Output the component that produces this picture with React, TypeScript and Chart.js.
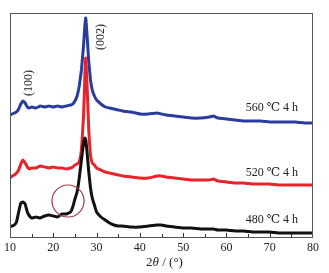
import React, { useEffect, useRef } from "react";
import { Chart, registerables } from "chart.js";

Chart.register(...registerables);

const twoTheta = [
  10, 10.5, 11, 11.5, 12, 12.5, 13, 13.5, 14, 14.5,
  15, 16, 17, 18, 19, 20, 21, 22, 23, 24,
  24.5, 25, 25.5, 26, 26.5, 27, 27.3, 27.5, 27.8, 28.2,
  28.6, 29, 29.5, 30, 31, 32, 33, 34, 35, 36,
  38, 40, 42, 44, 45, 46, 48, 50, 52, 54,
  56, 57, 58, 60, 62, 64, 66, 68, 70, 72,
  74, 76, 78, 80,
];

const blue560 = [
  122, 123, 124, 125, 128, 133, 136, 134, 130, 129,
  130, 129, 131, 130, 131, 130, 131, 130, 131, 132,
  133, 136, 141, 151, 167, 192, 212, 219, 202, 175,
  157, 147, 141, 137, 133, 130, 129, 128, 127, 126,
  125, 123, 123, 124, 123, 122, 121, 120, 119, 119,
  120, 121, 119, 118, 117, 116, 116, 116, 115, 115,
  115, 115, 114, 114,
];

const red520 = [
  59, 61, 62, 64, 67, 73, 77, 74, 70, 68,
  69, 69, 71, 70, 69, 70, 69, 69, 68, 69,
  70, 72, 73, 75, 87, 122, 162, 179, 152, 107,
  82, 74, 72, 69, 67, 65, 64, 63, 62, 61,
  60, 59, 59, 61, 61, 60, 59, 58, 57, 57,
  57, 58, 56, 55, 54, 54, 53, 53, 53, 52,
  52, 52, 52, 52,
];

const black480 = [
  10, 11, 12, 15, 25, 34, 35, 33, 25, 21,
  19, 20, 19, 21, 22, 21, 20, 23, 23, 25,
  30, 38, 45, 59, 77, 94, 99, 97, 85, 65,
  49, 39, 32, 25, 20, 17, 14, 12, 11, 11,
  10, 10, 11, 12, 12, 11, 10, 9, 9, 8,
  8, 8, 7, 7, 6, 6, 5, 5, 5, 4,
  4, 4, 4, 4,
];

const seriesLabels = ["480 ℃ 4 h", "520 ℃ 4 h", "560 ℃ 4 h"];
const seriesLabelX = [70.5, 70.5, 70.5];
const seriesLabelY = [17, 64, 129];

const peakLabels = ["(100)", "(002)"];
const peakLabelX = [14.4, 31.0];
const peakLabelY = [154, 200];

const circleCenter = [23.4, 36];
const circleRadiusDeg = 3.7;

const xTicks = [10, 20, 30, 40, 50, 60, 70, 80];

const overlay = {
  id: "overlay",
  afterDatasetsDraw(chart: any) {
    const { ctx, chartArea, scales } = chart;
    const x = scales.x;
    const y = scales.y;
    ctx.save();
    ctx.strokeStyle = "#555";
    ctx.lineWidth = 1;
    ctx.strokeRect(chartArea.left + 0.5, chartArea.top + 0.5, chartArea.right - chartArea.left - 1, chartArea.bottom - chartArea.top);
    ctx.strokeStyle = "#333";
    for (let v = 15; v < 80; v += 5) {
      const px = Math.round(x.getPixelForValue(v)) + 0.5;
      ctx.beginPath();
      ctx.moveTo(px, chartArea.bottom);
      ctx.lineTo(px, chartArea.bottom - (v % 10 === 0 ? 4 : 3));
      ctx.stroke();
    }
    const cx = x.getPixelForValue(circleCenter[0]);
    const cy = y.getPixelForValue(circleCenter[1]);
    const r = x.getPixelForValue(circleCenter[0] + circleRadiusDeg) - cx;
    ctx.strokeStyle = "#a83a48";
    ctx.lineWidth = 1.2;
    ctx.beginPath();
    ctx.arc(cx, cy, r, 0, Math.PI * 2);
    ctx.stroke();
    ctx.fillStyle = "#222";
    ctx.font = "12px 'Liberation Serif', 'DejaVu Serif', serif";
    ctx.textAlign = "center";
    ctx.textBaseline = "middle";
    seriesLabels.forEach((t, i) => {
      ctx.fillText(t, x.getPixelForValue(seriesLabelX[i]), y.getPixelForValue(seriesLabelY[i]));
    });
    peakLabels.forEach((t, i) => {
      ctx.save();
      ctx.translate(x.getPixelForValue(peakLabelX[i]), y.getPixelForValue(peakLabelY[i]));
      ctx.rotate(-Math.PI / 2);
      ctx.fillText(t, 0, 0);
      ctx.restore();
    });
    const parts = [
      { t: "2", f: "13px 'Liberation Serif', serif" },
      { t: "θ", f: "italic 13px 'Liberation Serif', serif" },
      { t: " / (°)", f: "13px 'Liberation Serif', serif" },
    ];
    let total = 0;
    parts.forEach((p) => {
      ctx.font = p.f;
      total += ctx.measureText(p.t).width;
    });
    let sx = (chartArea.left + chartArea.right) / 2 - total / 2 + 3;
    ctx.textAlign = "left";
    parts.forEach((p) => {
      ctx.font = p.f;
      ctx.fillText(p.t, sx, 263);
      sx += ctx.measureText(p.t).width;
    });
    ctx.restore();
  },
};

export default function App() {
  const ref = useRef<HTMLCanvasElement>(null);
  useEffect(() => {
    const mk = (d: number[]) => twoTheta.map((xv, i) => ({ x: xv, y: d[i] }));
    const chart = new Chart(ref.current!, {
      type: "line",
      data: {
        datasets: [
          { data: mk(black480), borderColor: "#111111", borderWidth: 3, pointRadius: 0, tension: 0.1 },
          { data: mk(red520), borderColor: "#e5252b", borderWidth: 3, pointRadius: 0, tension: 0.1 },
          { data: mk(blue560), borderColor: "#2b3d9c", borderWidth: 3, pointRadius: 0, tension: 0.1 },
        ],
      },
      options: {
        animation: false,
        responsive: false,
        layout: { padding: { left: 10, right: 16, top: 13, bottom: 0 } },
        plugins: { legend: { display: false }, tooltip: { enabled: false } },
        scales: {
          x: {
            type: "linear",
            min: 10,
            max: 80,
            afterBuildTicks: (s: any) => {
              s.ticks = xTicks.map((v) => ({ value: v }));
            },
            afterFit: (s: any) => {
              s.height = 36;
            },
            grid: { display: false, drawTicks: false },
            border: { display: false },
            ticks: {
              padding: 4,
              color: "#222",
              maxRotation: 0,
              autoSkip: false,
              font: { family: "'Liberation Serif', serif", size: 12 },
            },
          },
          y: {
            display: false,
            min: 0,
            max: 224,
          },
        },
      },
      plugins: [overlay],
    });
    return () => chart.destroy();
  }, []);
  return (
    <div style={{ position: "fixed", left: 0, top: 0, width: 329, height: 273, background: "#fff" }}>
      <canvas ref={ref} width={329} height={273} style={{ width: 329, height: 273 }} />
    </div>
  );
}
